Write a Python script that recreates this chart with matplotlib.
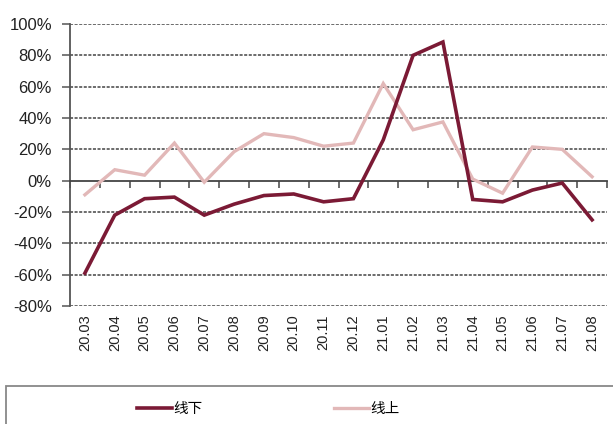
import matplotlib
matplotlib.use("Agg")
import matplotlib.pyplot as plt
from matplotlib.patches import Rectangle

categories = ["20.03", "20.04", "20.05", "20.06", "20.07", "20.08", "20.09", "20.10", "20.11",
              "20.12", "21.01", "21.02", "21.03", "21.04", "21.05", "21.06", "21.07", "21.08"]
offline = [-59, -22, -11.5, -10.5, -22, -15, -9.5, -8.5, -13.5, -11.5, 26, 80, 88.5, -12, -13.5, -6, -1.5, -25]
online = [-9, 7, 3.5, 24, -1, 18.5, 30, 27.5, 22, 24, 62, 32.5, 37.5, 1, -8, 21.5, 20, 2.5]
yticks = [-80, -60, -40, -20, 0, 20, 40, 60, 80, 100]
series_names = ["线下", "线上"]

plt.rcParams['font.family'] = ['Liberation Sans', 'DejaVu Sans']

W, H = 613, 424
fig = plt.figure(figsize=(W / 100, H / 100), dpi=100)
ax = fig.add_axes([70 / W, 1 - 306 / H, (607 - 70) / W, (306 - 24) / H])

x = list(range(len(categories)))
l1, = ax.plot(x, offline, color="#7b1a35", lw=2.6, solid_joinstyle="miter", zorder=4)
l2, = ax.plot(x, online, color="#e2b8b8", lw=2.4, solid_joinstyle="miter", zorder=3)

ax.set_xlim(-0.5, len(categories) - 0.5)
ax.set_ylim(-80, 100)
ax.set_yticks(yticks)
ax.set_yticklabels([f"{v}%" for v in yticks], fontsize=12, color="#222222")
for v in yticks:
    if v != 0:
        ax.axhline(v, color="#444444", lw=1.1, ls=(0, (2, 1)), zorder=1)

for s in ["top", "right"]:
    ax.spines[s].set_visible(False)
ax.spines["left"].set_color("#555555")
ax.spines["left"].set_linewidth(1.3)
ax.spines["bottom"].set_position(("data", 0))
ax.spines["bottom"].set_color("#444444")
ax.spines["bottom"].set_linewidth(1.3)
ax.tick_params(axis="y", length=6, width=1.1, color="#555555", pad=7)

ax.set_xticks([i - 0.5 for i in range(len(categories) + 1)])
ax.set_xticklabels([])
ax.tick_params(axis="x", length=5, width=1.1, color="#444444", direction="out")

for i, c in enumerate(categories):
    ax.text(i, -0.03, c, transform=ax.get_xaxis_transform(), rotation=90,
            ha="center", va="top", fontsize=10.5, color="#222222")

fig.patches.append(Rectangle((6 / W, -0.1), 1.0, (424 - 386) / H + 0.1,
                             transform=fig.transFigure, fill=False,
                             edgecolor="#888888", lw=1.3))
fig.legend([l1, l2], series_names, loc="center", bbox_to_anchor=(268 / W, 1 - 409 / H),
           ncol=2, frameon=False, handlelength=2.4, handletextpad=0.1, columnspacing=9.0,
           prop={"family": ["Noto Sans CJK SC"], "size": 10.5})

fig.savefig("out.png", dpi=100)
